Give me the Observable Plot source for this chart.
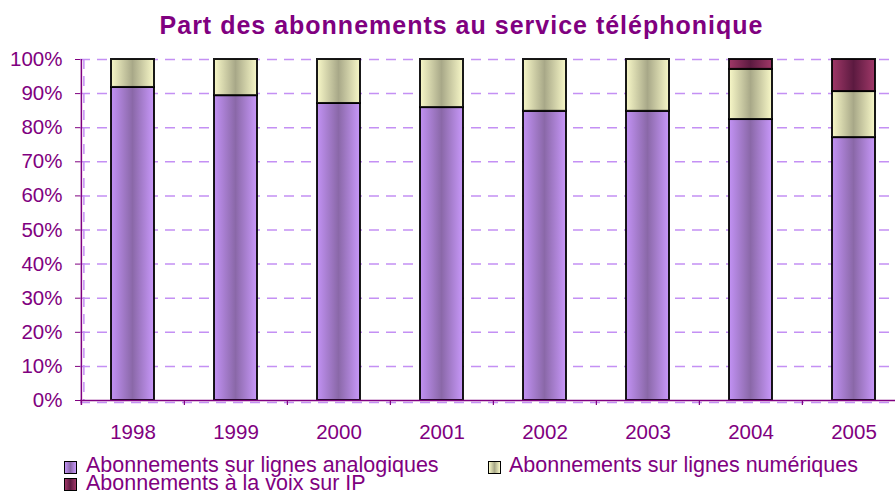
<!DOCTYPE html>
<html>
<head>
<meta charset="utf-8">
<script src="https://cdn.jsdelivr.net/npm/d3@7"></script>
<script src="https://cdn.jsdelivr.net/npm/@observablehq/plot@0.6"></script>
<style>
  html, body { margin: 0; padding: 0; background: #fff; }
  #wrap { position: relative; width: 895px; height: 493px; overflow: hidden; font-family: "Liberation Sans", Arial, sans-serif; color: #800080; }
  #title { position: absolute; left: 0; top: 13px; width: 923px; text-align: center; font-weight: bold; font-size: 25px; line-height: 25px; letter-spacing: 1px; }
  #chart { position: absolute; left: 0; top: 45px; }
  .sw { position: absolute; width: 13px; height: 13px; box-sizing: border-box; border: 1.5px solid #000; }
  .lt { position: absolute; font-size: 21.5px; line-height: 17px; height: 17px; white-space: nowrap; }
</style>
</head>
<body>
<div id="wrap">
  <div id="title">Part des abonnements au service téléphonique</div>
  <div id="chart"></div>
  <div class="sw" style="left:64px;top:461px;background:linear-gradient(to right,#c292f4,#8a68a8,#c898fa)"></div>
  <div class="lt" style="left:86px;top:457px">Abonnements sur lignes analogiques</div>
  <div class="sw" style="left:488px;top:461px;background:linear-gradient(to right,#f8f8c8,#a8a888,#f8f8c8)"></div>
  <div class="lt" style="left:509px;top:457px">Abonnements sur lignes numériques</div>
  <div class="sw" style="left:64px;top:478px;background:linear-gradient(to right,#a03868,#5c1a40,#a03868)"></div>
  <div class="lt" style="left:86px;top:475px">Abonnements à la voix sur IP</div>
</div>
<script>
const years = ["1998", "1999", "2000", "2001", "2002", "2003", "2004", "2005"];
const series = ["Abonnements sur lignes analogiques", "Abonnements sur lignes numériques", "Abonnements à la voix sur IP"];
const analog  = [91.8, 89.4, 87.1, 85.9, 84.8, 84.8, 82.4, 77.1];
const digital = [8.2, 10.6, 12.9, 14.1, 15.2, 15.2, 14.7, 13.5];
const voip    = [0, 0, 0, 0, 0, 0, 2.9, 9.4];
const yTicks = [0, 10, 20, 30, 40, 50, 60, 70, 80, 90, 100];

const values = [analog, digital, voip];
const rows = [];
years.forEach((yr, i) => {
  series.forEach((s, j) => rows.push({year: yr, series: s, value: values[j][i]}));
});

const x0 = 80, x1 = 906;
const step = (x1 - x0) / years.length;
const purple = "#800080";

const plot = Plot.plot({
  width: 895,
  height: 410,
  marginTop: 14,
  marginBottom: 55,
  marginLeft: 80,
  marginRight: 0,
  style: {fontFamily: "'Liberation Sans', Arial, sans-serif", fontSize: "20px", color: purple, background: "white"},
  x: {domain: years, range: [x0, x1], paddingInner: 0.585, paddingOuter: 0.2925, align: 0.5},
  y: {domain: [0, 100]},
  color: {domain: series, range: ["url(#gA)", "url(#gD)", "url(#gV)"]},
  marks: [
    Plot.ruleY(yTicks.slice(1), {stroke: "#c490f4", strokeWidth: 1.5, strokeDasharray: "10,7"}),
    Plot.ruleX([years[0]], {dx: -step / 2 + 2.5, stroke: "#c490f4", strokeWidth: 1.5, strokeDasharray: "10,7"}),
    Plot.ruleY([0], {stroke: "#c490f4", strokeWidth: 1.5, strokeDasharray: "10,7", dy: 2}),
    Plot.barY(rows, Plot.stackY({x: "year", y: "value", fill: "series", stroke: "#000", strokeWidth: 2, strokeOpacity: 0.9})),
    Plot.ruleY([0], {stroke: purple, strokeWidth: 1.5}),
    Plot.ruleX([years[0]], {dx: -step / 2, stroke: purple, strokeWidth: 1.5, insetBottom: -5}),
    Plot.ruleX(years.slice(1), {y1: 0, y2: 0, dx: -step / 2, insetBottom: -5, stroke: purple, strokeWidth: 1.2}),
    Plot.axisY({ticks: yTicks, tickFormat: d => d + "%", tickSize: 5, tickPadding: 13, stroke: purple, fill: purple, fontSize: 20.5, label: null}),
    Plot.axisX({tickSize: 0, tickPadding: 24, fill: purple, fontSize: 20.5, label: null})
  ]
});

plot.insertAdjacentHTML("afterbegin", `
<defs>
  <linearGradient id="gA" x1="0" x2="1" y1="0" y2="0">
    <stop offset="0" stop-color="#c292f4"/><stop offset="0.5" stop-color="#8a68a8"/><stop offset="1" stop-color="#c898fa"/>
  </linearGradient>
  <linearGradient id="gD" x1="0" x2="1" y1="0" y2="0">
    <stop offset="0" stop-color="#f8f8c8"/><stop offset="0.5" stop-color="#a8a888"/><stop offset="1" stop-color="#f8f8c8"/>
  </linearGradient>
  <linearGradient id="gV" x1="0" x2="1" y1="0" y2="0">
    <stop offset="0" stop-color="#a03868"/><stop offset="0.5" stop-color="#5c1a40"/><stop offset="1" stop-color="#a03868"/>
  </linearGradient>
</defs>`);

document.getElementById("chart").appendChild(plot);
</script>
</body>
</html>
